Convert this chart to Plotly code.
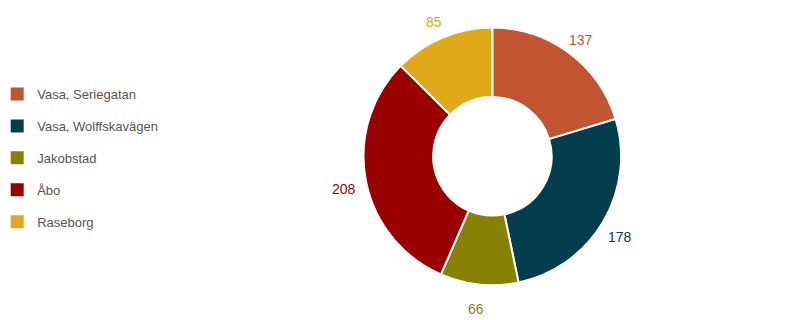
import numpy as np
import plotly.graph_objects as go

labels = ["Vasa, Seriegatan", "Vasa, Wolffskavägen", "Jakobstad", "Åbo", "Raseborg"]
values = [137, 178, 66, 208, 85]
colors = ["#C25431", "#033D4E", "#888204", "#9A0000", "#E1A817"]

W, H = 800, 320
dom_x = [0.4544, 0.7764]
dom_y = [0.1091, 0.9141]

fig = go.Figure()
fig.add_trace(go.Pie(
    labels=labels, values=values, sort=False, direction="clockwise", rotation=0,
    hole=0.46,
    marker=dict(colors=colors, line=dict(color="white", width=2)),
    textinfo="none",
    showlegend=False,
    domain=dict(x=dom_x, y=dom_y),
))
for lab, col in zip(labels, colors):
    fig.add_trace(go.Scatter(
        x=[None], y=[None], mode="markers", name=lab, legendgroup=lab,
        marker=dict(symbol="square", size=13, color=col),
    ))

# value labels placed outside each slice, at its mid-angle
cx = (dom_x[0] + dom_x[1]) / 2 * W
cy = (1 - (dom_y[0] + dom_y[1]) / 2) * H
R = min((dom_x[1] - dom_x[0]) * W, (dom_y[1] - dom_y[0]) * H) / 2
vals = np.array(values, dtype=float)
mids = (np.cumsum(vals) - vals / 2) / vals.sum() * 2 * np.pi
rl = R * 1.162
annotations = []
for v, a, col in zip(values, mids, colors):
    px = cx + rl * np.sin(a)
    py = cy - rl * np.cos(a)
    annotations.append(dict(
        x=px / W, y=1 - py / H, xref="paper", yref="paper",
        text=str(v), showarrow=False, xanchor="center", yanchor="middle",
        yshift=-4, xshift=-1,
        font=dict(color=col, size=14, family="Liberation Sans"),
    ))

fig.update_layout(
    width=W, height=H,
    margin=dict(l=0, r=0, t=0, b=0, autoexpand=False),
    paper_bgcolor="white", plot_bgcolor="white",
    xaxis=dict(visible=False), yaxis=dict(visible=False),
    legend=dict(x=-0.0035, y=0.506, xanchor="left", yanchor="middle",
                font=dict(size=13, color="#555555", family="Liberation Sans"),
                tracegroupgap=12, itemclick=False, itemdoubleclick=False),
    annotations=annotations,
    font=dict(family="Liberation Sans"),
)
fig.write_html("out.html")
